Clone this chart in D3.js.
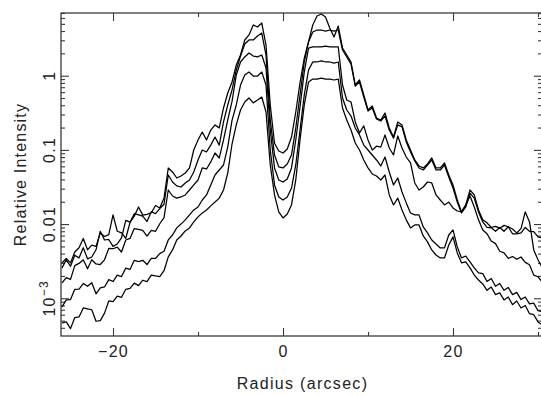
<!DOCTYPE html>
<html>
<head>
<meta charset="utf-8">
<script src="https://cdn.jsdelivr.net/npm/d3@7/dist/d3.min.js"></script>
<style>
  html, body { margin: 0; padding: 0; background: #fff; }
  svg { display: block; }
  text { font-family: "Liberation Sans", Arial, sans-serif; fill: #222; }
</style>
</head>
<body>
<svg id="chart" width="541" height="396"></svg>
<script>
// ---------------- data ----------------
const radius = [-26,-25.5,-25,-24.5,-24,-23.5,-23,-22.5,-22,-21.5,
  -21,-20.5,-20,-19.5,-19,-18.5,-18,-17.5,-17,-16.5,
  -16,-15.5,-15,-14.5,-14,-13.5,-13,-12.5,-12,-11.5,
  -11,-10.5,-10,-9.5,-9,-8.5,-8,-7.5,-7,-6.5,
  -6,-5.5,-5,-4.5,-4,-3.5,-3,-2.5,-2,-1.5,
  -1,-0.5,0,0.5,1,1.5,2,2.5,3,3.5,
  4,4.5,5,5.5,6,6.5,7,7.5,8,8.5,
  9,9.5,10,10.5,11,11.5,12,12.5,13,13.5,
  14,14.5,15,15.5,16,16.5,17,17.5,18,18.5,
  19,19.5,20,20.5,21,21.5,22,22.5,23,23.5,
  24,24.5,25,25.5,26,26.5,27,27.5,28,28.5,
  29,29.5,30,30.5];

const profile1 = [0.00299,0.00345,0.00300,0.00420,0.00480,0.00640,0.00450,0.00520,0.00500,0.00760,
  0.00680,0.00720,0.0133,0.00800,0.00760,0.00640,0.0105,0.0128,0.0170,0.0132,
  0.0135,0.0142,0.0178,0.0165,0.0224,0.0570,0.0504,0.0418,0.0445,0.0488,
  0.0571,0.0997,0.136,0.174,0.136,0.185,0.217,0.198,0.367,0.584,
  0.823,1.39,1.90,3.03,3.54,4.82,4.53,5.13,2.59,0.403,
  0.123,0.0967,0.0908,0.103,0.149,0.324,0.80,1.73,2.85,4.82,
  6.38,6.78,6.19,4.39,3.33,4.67,2.36,1.90,1.53,0.749,
  0.875,0.549,0.345,0.391,0.269,0.253,0.314,0.197,0.149,0.238,
  0.217,0.136,0.0997,0.0731,0.0607,0.0571,0.0646,0.0778,0.0571,0.0571,
  0.0666,0.0459,0.0337,0.0211,0.0146,0.0181,0.0288,0.0247,0.0155,0.0114,
  0.0104,0.00900,0.00930,0.00880,0.00960,0.00920,0.00860,0.00760,0.00870,0.0146,
  0.0107,0.00448,0.00330,0.00257];

const profile2 = [0.00257,0.00330,0.00270,0.00380,0.00350,0.00480,0.00340,0.00360,0.00450,0.00800,
  0.00610,0.00620,0.00500,0.00540,0.00650,0.0112,0.0106,0.0138,0.0133,0.0128,
  0.0108,0.0147,0.0138,0.0162,0.0185,0.0459,0.0369,0.0327,0.0316,0.0358,
  0.0393,0.0504,0.0731,0.0997,0.0938,0.116,0.149,0.116,0.238,0.403,
  0.642,1.19,1.84,2.67,3.03,3.03,3.43,3.76,1.90,0.253,
  0.0854,0.0590,0.0571,0.0646,0.0854,0.197,0.549,1.53,2.85,3.88,
  4.13,4.13,4.00,4.13,4.00,4.13,2.22,1.79,1.43,0.726,
  0.823,0.516,0.334,0.367,0.261,0.245,0.286,0.185,0.144,0.217,
  0.204,0.128,0.0938,0.0709,0.0571,0.0536,0.0626,0.0731,0.0536,0.0536,
  0.0626,0.0432,0.0306,0.0198,0.0141,0.0170,0.0262,0.0224,0.0146,0.0107,
  0.00900,0.00890,0.00800,0.00900,0.00800,0.00920,0.00740,0.00740,0.00760,0.00900,
  0.00800,0.00790,0.00670,0.00651];

const profile3 = [0.00161,0.00190,0.00180,0.00275,0.00295,0.00330,0.00250,0.00330,0.00290,0.00285,
  0.00330,0.00470,0.00465,0.00490,0.00420,0.00610,0.00640,0.00870,0.00850,0.00820,
  0.00690,0.00820,0.00800,0.0101,0.0122,0.0288,0.0239,0.0224,0.0232,0.0247,
  0.0288,0.0337,0.0393,0.0571,0.0553,0.0688,0.0908,0.0778,0.136,0.253,
  0.45,1.02,1.53,1.79,2.02,1.84,1.79,1.90,1.27,0.185,
  0.0571,0.0393,0.0369,0.0405,0.0571,0.136,0.378,1.12,2.36,2.44,
  2.44,2.44,2.51,2.44,2.44,2.44,0.749,0.470,0.442,0.238,
  0.169,0.211,0.136,0.0997,0.112,0.109,0.159,0.106,0.0854,0.154,
  0.106,0.0802,0.0666,0.0358,0.0288,0.0316,0.0369,0.0358,0.0247,0.0211,
  0.0181,0.0198,0.0165,0.0150,0.0146,0.0181,0.0239,0.0170,0.0114,0.00833,
  0.00740,0.00590,0.00545,0.00430,0.00410,0.00345,0.00365,0.00335,0.00360,0.00305,
  0.00283,0.00205,0.00195,0.00166];

const profile4 = [0.000767,0.000950,0.000960,0.00132,0.00133,0.00158,0.00145,0.00162,0.00115,0.00138,
  0.00142,0.00178,0.00168,0.00205,0.00196,0.00255,0.00245,0.00325,0.00312,0.00325,
  0.00285,0.00345,0.00345,0.00400,0.00430,0.00611,0.00713,0.00888,0.0100,0.0114,
  0.0133,0.0155,0.0170,0.0211,0.0247,0.0337,0.0459,0.0536,0.0626,0.110,
  0.25,0.403,0.749,1.02,1.12,0.99,0.99,1.12,0.749,0.0997,
  0.0337,0.0232,0.0211,0.0232,0.0306,0.0626,0.185,0.549,1.19,1.53,
  1.53,1.58,1.53,1.53,1.48,1.53,0.50,0.345,0.286,0.197,
  0.159,0.116,0.0997,0.0854,0.0731,0.0607,0.0802,0.0504,0.0337,0.0418,
  0.0271,0.0193,0.0141,0.0133,0.0133,0.00915,0.00760,0.00611,0.00540,0.00477,
  0.00477,0.00713,0.00833,0.00493,0.00350,0.00371,0.00309,0.00257,0.00220,0.00215,
  0.00168,0.00185,0.00145,0.00158,0.00128,0.00140,0.00112,0.00120,0.00096,0.00104,
  0.00084,0.00086,0.00068,0.00066];

const profile5 = [0.000466,0.000480,0.000390,0.000550,0.000560,0.000740,0.000720,0.000700,0.000490,0.000500,
  0.000630,0.000920,0.000900,0.00107,0.00103,0.00132,0.00136,0.00160,0.00148,0.00175,
  0.00168,0.00205,0.00200,0.00196,0.00235,0.00361,0.00448,0.00611,0.00691,0.00808,
  0.00888,0.0107,0.0125,0.0141,0.0155,0.0176,0.0198,0.0224,0.0288,0.0489,
  0.12,0.217,0.345,0.442,0.50,0.43,0.47,0.516,0.324,0.0626,
  0.0247,0.0146,0.0121,0.0137,0.0181,0.0393,0.136,0.403,0.823,0.90,
  0.90,0.93,0.90,0.90,0.875,0.90,0.367,0.253,0.185,0.124,
  0.0997,0.0731,0.0571,0.0474,0.0445,0.0393,0.0459,0.0247,0.0181,0.0224,
  0.0155,0.0114,0.00888,0.00973,0.00973,0.00691,0.00575,0.00448,0.00383,0.00350,
  0.00350,0.00523,0.00672,0.00408,0.00300,0.00309,0.00257,0.00206,0.00176,0.00156,
  0.00128,0.00142,0.00112,0.00118,0.00095,0.00104,0.00082,0.00092,0.00074,0.00080,
  0.00062,0.00060,0.00048,0.00044];

const xMajorTicks = [-20, 0, 20];
const xMinorTicks = [-10, 10, 30];
const yMajorTicks = [0.001, 0.01, 0.1, 1];
const yTickLabels = ["10|−3", "0.01", "0.1", "1"];
const yMinorTicks = [0.0004,0.0005,0.0006,0.0007,0.0008,0.0009,
  0.002,0.003,0.004,0.005,0.006,0.007,0.008,0.009,
  0.02,0.03,0.04,0.05,0.06,0.07,0.08,0.09,
  0.2,0.3,0.4,0.5,0.6,0.7,0.8,0.9,
  2,3,4,5,6,7];
const xTitle = "Radius (arcsec)";
const yTitle = "Relative Intensity";

// ---------------- layout ----------------
const L = 61, R = 542, T = 13, B = 336;
const svg = d3.select("#chart");

const x = d3.scaleLinear().domain([-26.12, 30.47]).range([L, R]);
const y = d3.scaleLog().domain([3.1e-4, 7.0]).range([B, T]);

const axisColor = "#3a3a3a";
const fontSize = 16;

function styleAxis(g) {
  g.select(".domain").remove();
  g.selectAll(".tick line").attr("stroke", axisColor).attr("stroke-width", 1.1);
  g.selectAll(".tick text")
    .attr("font-size", fontSize)
    .attr("letter-spacing", 1.3)
    .attr("fill", "#222")
    .attr("font-family", "Liberation Sans, Arial, sans-serif");
}

const fmtX = d => d < 0 ? "\u2212" + Math.abs(d) : String(d);

// bottom axis: major (labelled) + minor
svg.append("g").attr("transform", `translate(0,${B})`)
  .call(d3.axisBottom(x).tickValues(xMajorTicks).tickSizeInner(-8).tickSizeOuter(0)
    .tickPadding(10).tickFormat(fmtX))
  .call(styleAxis);
svg.append("g").attr("transform", `translate(0,${B})`)
  .call(d3.axisBottom(x).tickValues(xMinorTicks).tickSizeInner(-4).tickSizeOuter(0).tickFormat(""))
  .call(styleAxis);
// top axis
svg.append("g").attr("transform", `translate(0,${T})`)
  .call(d3.axisTop(x).tickValues(xMajorTicks).tickSizeInner(-8).tickSizeOuter(0).tickFormat(""))
  .call(styleAxis);
svg.append("g").attr("transform", `translate(0,${T})`)
  .call(d3.axisTop(x).tickValues(xMinorTicks).tickSizeInner(-4).tickSizeOuter(0).tickFormat(""))
  .call(styleAxis);
// left axis
svg.append("g").attr("transform", `translate(${L},0)`)
  .call(d3.axisLeft(y).tickValues(yMajorTicks).tickSizeInner(-8).tickSizeOuter(0).tickFormat(""))
  .call(styleAxis);
svg.append("g").attr("transform", `translate(${L},0)`)
  .call(d3.axisLeft(y).tickValues(yMinorTicks).tickSizeInner(-4).tickSizeOuter(0).tickFormat(""))
  .call(styleAxis);
// right axis
svg.append("g").attr("transform", `translate(${R},0)`)
  .call(d3.axisRight(y).tickValues(yMajorTicks).tickSizeInner(-8).tickSizeOuter(0).tickFormat(""))
  .call(styleAxis);
svg.append("g").attr("transform", `translate(${R},0)`)
  .call(d3.axisRight(y).tickValues(yMinorTicks).tickSizeInner(-4).tickSizeOuter(0).tickFormat(""))
  .call(styleAxis);

// frame
svg.append("rect")
  .attr("x", L).attr("y", T).attr("width", R - L).attr("height", B - T)
  .attr("fill", "none").attr("stroke", axisColor).attr("stroke-width", 1.3);

// rotated y tick labels
const yl = svg.append("g");
yMajorTicks.forEach((v, i) => {
  const t = yl.append("text")
    .attr("transform", `translate(55,${y(v)}) rotate(-90)`)
    .attr("text-anchor", "middle")
    .attr("font-size", fontSize)
    .attr("letter-spacing", 1.3);
  const parts = yTickLabels[i].split("|");
  t.append("tspan").text(parts[0]);
  if (parts[1]) {
    t.append("tspan").attr("dy", -7).attr("font-size", 12).text(parts[1]);
  }
});

// axis titles
svg.append("text")
  .attr("x", (L + R) / 2 + 1).attr("y", 389)
  .attr("text-anchor", "middle")
  .attr("font-size", fontSize)
  .attr("letter-spacing", 1.3)
  .text(xTitle);
svg.append("text")
  .attr("transform", `translate(26,${(T + B) / 2}) rotate(-90)`)
  .attr("text-anchor", "middle")
  .attr("font-size", fontSize)
  .attr("letter-spacing", 1.2)
  .text(yTitle);

// curves
const series = [profile1, profile2, profile3, profile4, profile5];
const line = d3.line()
  .x((d, i) => x(radius[i]))
  .y(d => y(d));

svg.append("defs").append("clipPath").attr("id", "clip")
  .append("rect").attr("x", L).attr("y", T).attr("width", R - L).attr("height", B - T);

svg.append("g").attr("clip-path", "url(#clip)")
  .selectAll("path.profile")
  .data(series)
  .join("path")
  .attr("class", "profile")
  .attr("fill", "none")
  .attr("stroke", "#000")
  .attr("stroke-width", 1.25)
  .attr("stroke-linejoin", "round")
  .attr("d", line);
</script>
</body>
</html>
